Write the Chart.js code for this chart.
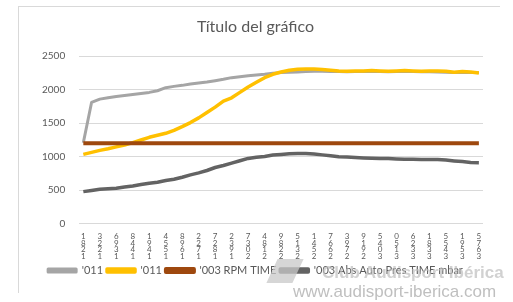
<!DOCTYPE html>
<html>
<head>
<meta charset="utf-8">
<script src="https://cdn.jsdelivr.net/npm/chart.js@4.4.0/dist/chart.umd.min.js"></script>
<style>
  html, body { margin: 0; padding: 0; background: #fff; }
  #wrap { position: relative; width: 513px; height: 302px; overflow: hidden; }
  #frame { position: absolute; left: 18px; top: 6px; width: 481px; height: 286px; border: 1px solid #d9d9d9; border-right: none; border-bottom: none; }
  #c { position: absolute; left: 0; top: 0; }
  .wm { position: absolute; font-family: "Liberation Sans", Arial, sans-serif; font-weight: bold; color: rgba(190,190,190,0.7); white-space: nowrap; }
  #logo { position: absolute; left: 272px; top: 259px; width: 26px; height: 24px; background: rgba(200,200,200,0.75); transform: skewX(-25deg); }
</style>
</head>
<body>
<div id="wrap">
  <div id="frame"></div>
  <canvas id="c" width="513" height="302"></canvas>
  <div id="logo"></div>
  <div class="wm" style="left:322px; top:263px; font-size:17px;">Club Audisport Ibérica</div>
  <div class="wm" style="left:293px; top:282px; font-size:17px; font-weight:normal; color:rgba(175,175,175,0.8);">www.audisport-iberica.com</div>
</div>
<script>
// tick labels (stacked digits, every other category)
const tickLabels = [
  '1821', '3221', '6931', '8441', '1941', '4551', '8961', '2271', '7281', '2391',
  '7302', '4812', '9822', '5132', '1452', '7662', '3972', '9192', '5403', '0513',
  '6233', '1833', '5543', '1953', '5763'
];

const seriesNames = ["'011", "'011", "'003 RPM TIME", "'003 Abs Auto Pres TIME mbar"];

const grayValues = [
  1210, 1810, 1860, 1880, 1900, 1915, 1930, 1945, 1960, 1985,
  2030, 2050, 2065, 2085, 2100, 2115, 2135, 2155, 2180, 2195,
  2210, 2220, 2230, 2245, 2255, 2260, 2265, 2270, 2275, 2275,
  2272, 2270, 2268, 2270, 2272, 2275, 2272, 2268, 2270, 2272,
  2270, 2268, 2268, 2265, 2262, 2258, 2260, 2258, 2255
];

const yellowValues = [
  1035, 1065, 1095, 1120, 1148, 1175, 1210, 1250, 1290, 1320,
  1350, 1395, 1450, 1510, 1580, 1660, 1740, 1830, 1880, 1960,
  2040, 2110, 2180, 2230, 2265, 2290, 2305, 2310, 2308, 2300,
  2290, 2280, 2275, 2280, 2280, 2285, 2280, 2275, 2280, 2285,
  2280, 2275, 2280, 2280, 2275, 2260, 2270, 2265, 2250
];

const rpmValues = [
  1200, 1200, 1200, 1200, 1200, 1200, 1200, 1200, 1200, 1200,
  1200, 1200, 1200, 1200, 1200, 1200, 1200, 1200, 1200, 1200,
  1200, 1200, 1200, 1200, 1200, 1200, 1200, 1200, 1200, 1200,
  1200, 1200, 1200, 1200, 1200, 1200, 1200, 1200, 1200, 1200,
  1200, 1200, 1200, 1200, 1200, 1200, 1200, 1200, 1200
];

const presValues = [
  480, 498, 515, 522, 530, 548, 565, 585, 605, 620,
  645, 665, 695, 730, 760, 795, 840, 870, 905, 940,
  975, 992, 1005, 1025, 1035, 1045, 1048, 1048, 1040, 1028,
  1015, 1000, 995, 988, 983, 978, 975, 973, 968, 964,
  962, 960, 959, 958, 950, 938, 928, 915, 912
];

// 49 categories, a label on every second one
const categories = [];
tickLabels.forEach((l, i) => {
  categories.push(l.split(''));
  if (i < tickLabels.length - 1) categories.push('');
});

const txt = '#595959';

function line(label, data, color, width, order) {
  return {
    label: label,
    data: data,
    borderColor: color,
    backgroundColor: color,
    borderWidth: width,
    pointRadius: 0,
    tension: 0,
    borderJoinStyle: 'round',
    order: order
  };
}

new Chart(document.getElementById('c'), {
  type: 'line',
  data: {
    labels: categories,
    datasets: [
      line(seriesNames[0], grayValues, '#a5a5a5', 3, 4),
      line(seriesNames[1], yellowValues, '#ffc000', 3.5, 3),
      line(seriesNames[2], rpmValues, '#9e480e', 4, 2),
      line(seriesNames[3], presValues, '#636363', 3.5, 1)
    ]
  },
  options: {
    responsive: false,
    animation: false,
    layout: { padding: { left: 28, right: 30, top: 0, bottom: 16 } },
    plugins: {
      title: {
        display: true,
        text: 'Título del gráfico',
        color: txt,
        font: { family: 'Lato', size: 16, weight: 'normal' },
        padding: { top: 17, bottom: 20 }
      },
      legend: {
        position: 'bottom',
        labels: {
          color: txt,
          font: { family: 'Lato', size: 11 },
          boxWidth: 28,
          boxHeight: 3,
          padding: 4,
          sort: (a, b) => a.datasetIndex - b.datasetIndex
        }
      },
      tooltip: { enabled: false }
    },
    scales: {
      x: {
        offset: true,
        grid: { display: false },
        border: { display: false },
        ticks: {
          autoSkip: false,
          maxRotation: 0,
          minRotation: 0,
          color: txt,
          padding: 1,
          font: { family: 'Lato', size: 8, lineHeight: 0.85 }
        }
      },
      y: {
        min: 0,
        max: 2500,
        grid: { color: '#d9d9d9', lineWidth: 1, drawTicks: false },
        border: { display: false },
        ticks: {
          stepSize: 500,
          color: txt,
          padding: 14,
          font: { family: 'Lato', size: 10 },
          callback: (v) => String(v)
        }
      }
    }
  }
});
</script>
</body>
</html>
